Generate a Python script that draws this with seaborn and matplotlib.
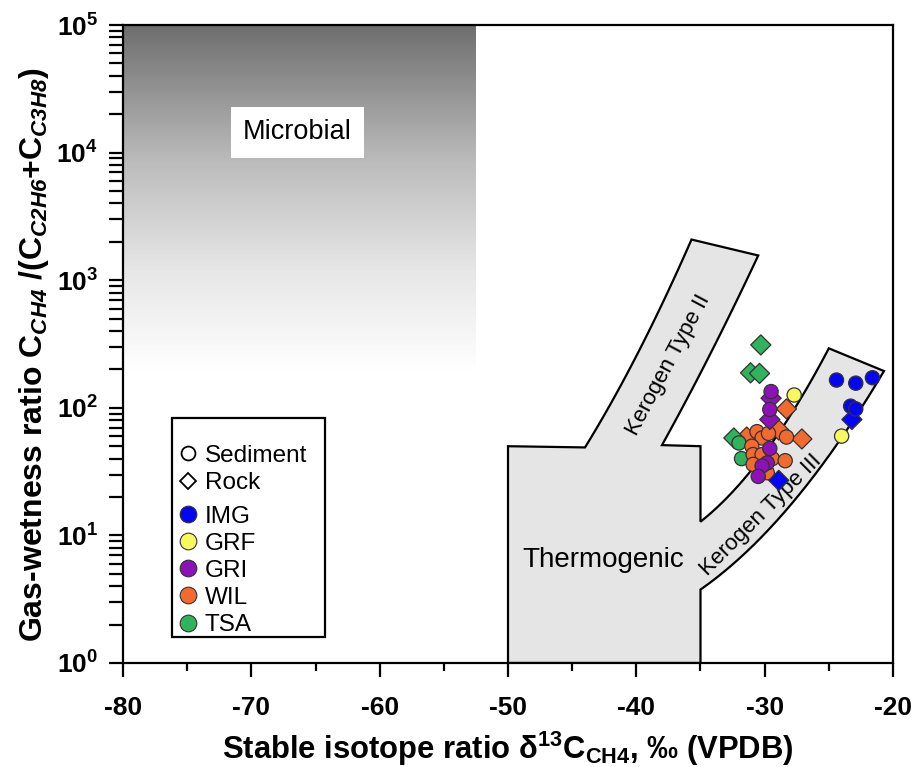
import numpy as np
import pandas as pd
import matplotlib.pyplot as plt
import seaborn as sns
from matplotlib.patches import Polygon, Rectangle
from matplotlib.lines import Line2D
from matplotlib.ticker import FixedLocator, FixedFormatter, LogLocator, NullFormatter, MultipleLocator

sns.set_style("ticks")
plt.rcParams['font.family'] = ['Liberation Sans', 'DejaVu Sans']
plt.rcParams['mathtext.fontset'] = 'custom'
plt.rcParams['mathtext.rm'] = 'Liberation Sans'
plt.rcParams['mathtext.it'] = 'Liberation Sans:italic'
plt.rcParams['mathtext.bf'] = 'Liberation Sans:bold'
plt.rcParams['mathtext.bfit'] = 'Liberation Sans:italic:bold'
for key in ['text.color', 'axes.labelcolor', 'xtick.color', 'ytick.color']:
    plt.rcParams[key] = 'black'

# samples
img_sed_x = [-24.4, -22.9, -21.6, -23.3, -22.9]
img_sed_y = [165, 156, 172, 103, 98]
img_rock_x = [-23.2, -28.9]
img_rock_y = [81, 27]

grf_sed_x = [-27.7, -24.0]
grf_sed_y = [126, 60]

gri_sed_x = [-29.5, -29.6, -29.6, -29.8, -30.2, -30.5]
gri_sed_y = [134, 97, 48, 37, 35, 29]
gri_rock_x = [-29.5, -29.6]
gri_rock_y = [119, 81]

wil_sed_x = [-28.3, -30.6, -30.2, -31.0, -30.9, -30.2, -29.4, -30.9, -29.8, -28.4, -29.7]
wil_sed_y = [59, 65, 58, 50, 43, 43, 40, 36, 31, 38.5, 63]
wil_rock_x = [-28.3, -27.1, -28.9, -31.4]
wil_rock_y = [98, 57, 67, 59]

tsa_sed_x = [-32.0, -31.8]
tsa_sed_y = [53, 40]
tsa_rock_x = [-30.3, -31.1, -30.4, -32.4]
tsa_rock_y = [311, 188, 186, 58]

sites = ['IMG', 'GRF', 'GRI', 'WIL', 'TSA']
colors = {'IMG': '#0505f5', 'GRF': '#f7f75e', 'GRI': '#8c12b8',
          'WIL': '#f26a2e', 'TSA': '#2fb35c'}

# outline control points of the genetic fields (delta13C, log10 ratio)
k2_left_x = [-44, -42.0, -39.45, -35.7]
k2_left_y = [1.699, 2.009, 2.531, 3.315]
k2_right_x = [-30.5, -33.2, -35.8, -38.0]
k2_right_y = [3.2, 2.61, 2.14, 1.699]
k3_upper_x = [-35, -31.9, -25.0]
k3_upper_y = [1.107, 1.408, 2.466]
k3_lower_x = [-20.7, -23.6, -24.6, -27.5, -30.1, -32.7, -35]
k3_lower_y = [2.296, 1.826, 1.67, 1.277, 1.016, 0.781, 0.556]


def edge(xs, ys, n=25):
    c = np.polyfit(xs, ys, 2)
    xx = np.linspace(xs[0], xs[-1], n)
    return list(zip(xx, 10 ** np.polyval(c, xx)))


outline = ([(-50, 50)] + edge(k2_left_x, k2_left_y) + edge(k2_right_x, k2_right_y)
           + [(-35, 50)] + edge(k3_upper_x, k3_upper_y) + edge(k3_lower_x, k3_lower_y)
           + [(-35, 1), (-50, 1)])

rows = []
for site, kind, xs, ys in [
        ('WIL', 'Rock', wil_rock_x, wil_rock_y),
        ('TSA', 'Rock', tsa_rock_x, tsa_rock_y),
        ('TSA', 'Sediment', tsa_sed_x, tsa_sed_y),
        ('WIL', 'Sediment', wil_sed_x, wil_sed_y),
        ('GRI', 'Rock', gri_rock_x, gri_rock_y),
        ('GRI', 'Sediment', gri_sed_x, gri_sed_y),
        ('GRF', 'Sediment', grf_sed_x, grf_sed_y),
        ('IMG', 'Rock', img_rock_x, img_rock_y),
        ('IMG', 'Sediment', img_sed_x, img_sed_y)]:
    for x, y in zip(xs, ys):
        rows.append({'site': site, 'kind': kind, 'd13C': x, 'ratio': y})
df = pd.DataFrame(rows)

fig = plt.figure(figsize=(9.14, 7.67), dpi=100)
ax = fig.add_axes([0.1346, 0.1356, 0.8424, 0.8318])
ax.set_yscale('log')
ax.set_xlim(-80, -20)
ax.set_ylim(1, 1e5)

# microbial gradient (dark at top, fading to white)
yedges = np.logspace(np.log10(180), 5, 200)
t = np.linspace(1, 0, 199)
shade = np.interp(t, [0, 0.4, 0.7, 1.0], [0.43, 0.74, 0.9, 1.0])
ax.pcolormesh([-80, -52.5], yedges, shade[:, None], cmap='gray', vmin=0, vmax=1,
              shading='flat', zorder=0, rasterized=True)
ax.text(-66.4, 10**4.16, 'Microbial', fontsize=19.5, ha='center', va='center',
        bbox=dict(facecolor='white', edgecolor='none', pad=9), zorder=2)

ax.add_patch(Polygon(outline, closed=True, facecolor='#e5e5e5',
                     edgecolor='black', lw=1.6, zorder=1))
ax.text(-42.6, 6.4, 'Thermogenic', fontsize=20, ha='center', va='center', zorder=2)
ax.text(-37.5, 216, 'Kerogen Type II', fontsize=16, rotation=62,
        ha='center', va='center', zorder=2)
ax.text(-30.3, 14.5, 'Kerogen Type III', fontsize=16, rotation=45,
        ha='center', va='center', zorder=2)

sns.scatterplot(data=df, x='d13C', y='ratio', hue='site', style='kind',
                palette=colors, markers={'Sediment': 'o', 'Rock': 'D'},
                s=105, edgecolor='#333333', linewidth=0.9,
                legend=False, ax=ax, zorder=3)

# legend: frame + two stacked groups (sample type, site)
ax.add_patch(Rectangle((0.063, 0.04), 0.199, 0.3435, transform=ax.transAxes,
                       facecolor='white', edgecolor='black', lw=1.6, zorder=4))
type_handles = [Line2D([], [], ls='none', marker='o', mfc='white', mec='black', ms=10, mew=1.3),
                Line2D([], [], ls='none', marker='D', mfc='white', mec='black', ms=8, mew=1.3)]
site_handles = [Line2D([], [], ls='none', marker='o', mfc=colors[s], mec='#333333',
                       ms=12, mew=0.8) for s in sites]
leg_kw = dict(loc='upper left', frameon=False, fontsize=17.5, handletextpad=0.15,
              labelspacing=0.21, handlelength=1.1, borderaxespad=0)
leg1 = ax.legend(type_handles, ['Sediment', 'Rock'], bbox_to_anchor=(0.054, 0.357), **leg_kw)
leg1.set_zorder(5)
ax.add_artist(leg1)
leg2 = ax.legend(site_handles, sites, bbox_to_anchor=(0.054, 0.262), **leg_kw)
leg2.set_zorder(5)

# axes styling
ax.xaxis.set_major_locator(FixedLocator([-80, -70, -60, -50, -40, -30, -20]))
ax.xaxis.set_minor_locator(MultipleLocator(5))
ax.set_xticklabels(['-80', '-70', '-60', '-50', '-40', '-30', '-20'],
                   fontsize=19, fontweight='bold')
ax.yaxis.set_major_locator(FixedLocator([1, 10, 100, 1000, 1e4, 1e5]))
ax.yaxis.set_major_formatter(FixedFormatter(
    [r'$\mathbf{10^{%d}}$' % i for i in range(6)]))
ax.yaxis.set_minor_locator(LogLocator(base=10, subs=np.arange(2, 10), numticks=20))
ax.yaxis.set_minor_formatter(NullFormatter())
for lab in ax.get_yticklabels():
    lab.set_fontsize(19)
ax.tick_params(axis='both', which='major', direction='out', length=10, width=1.6,
               top=False, right=False)
ax.tick_params(axis='x', which='major', pad=14)
ax.tick_params(axis='y', which='major', pad=8)
ax.tick_params(axis='x', which='minor', direction='out', length=5.5, width=1.6, top=False)
ax.tick_params(axis='y', which='minor', direction='out', length=10, width=1.6, right=False)
for sp in ax.spines.values():
    sp.set_linewidth(1.6)
    sp.set_color('black')

ax.set_xlabel(r'Stable isotope ratio δ$^{\mathbf{13}}$C$_{\mathbf{CH4}}$, ‰ (VPDB)',
              fontsize=22.3, fontweight='bold', labelpad=7)
ax.set_ylabel(r'Gas-wetness ratio C$_{\mathbfit{CH4}}$ /(C$_{\mathbfit{C2H6}}$+C$_{\mathbfit{C3H8}}$)',
              fontsize=23, fontweight='bold')
ax.yaxis.set_label_coords(-0.094, 0.483)

fig.savefig('out.png', dpi=100)
